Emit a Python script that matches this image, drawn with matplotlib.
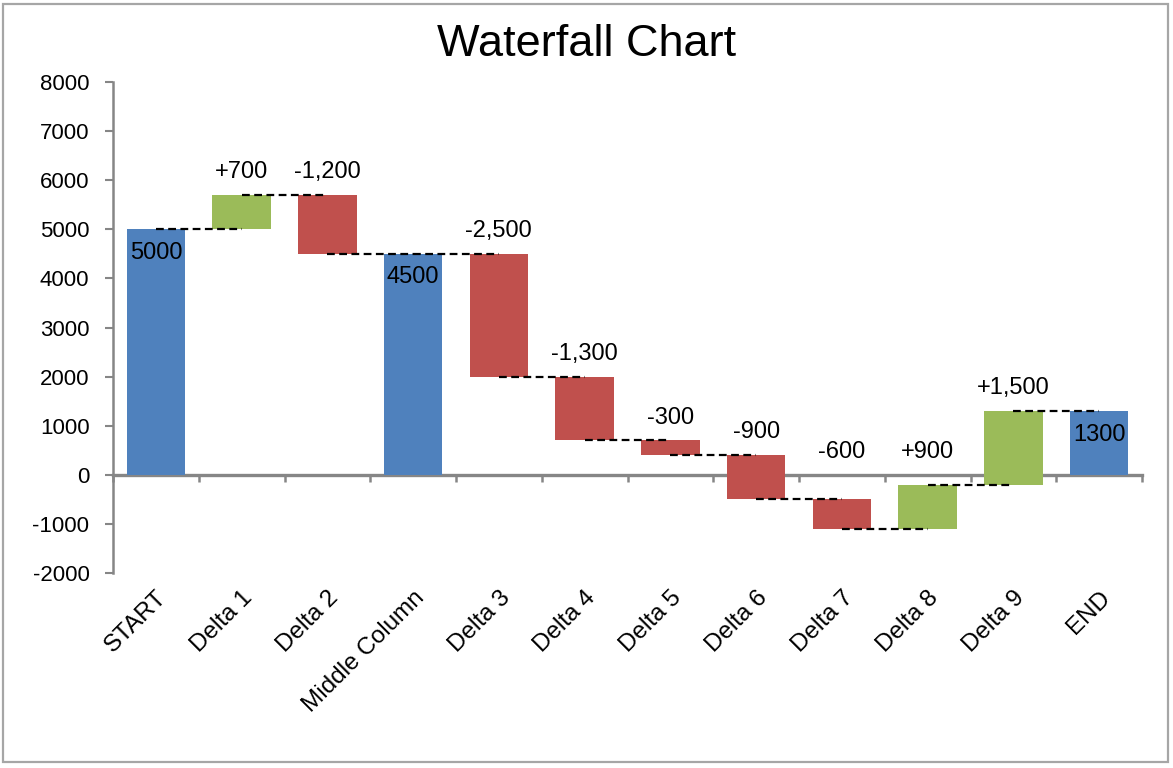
import matplotlib
matplotlib.use("Agg")
import matplotlib.pyplot as plt
from matplotlib.patches import Rectangle
import numpy as np

plt.rcParams['font.family'] = ['Liberation Sans', 'DejaVu Sans']

# ---- data ----
categories = ["START", "Delta 1", "Delta 2", "Middle Column", "Delta 3", "Delta 4",
              "Delta 5", "Delta 6", "Delta 7", "Delta 8", "Delta 9", "END"]
# for totals: the total value; for deltas: the change
values = [5000, 700, -1200, 4500, -2500, -1300, -300, -900, -600, 900, 1500, 1300]
is_total = [True, False, False, True, False, False, False, False, False, False, False, True]
title = "Waterfall Chart"
y_ticks = list(range(-2000, 8001, 1000))

c_total = "#4F81BD"
c_up = "#9BBB59"
c_down = "#C0504D"
axis_gray = "#868686"

# ---- compute waterfall geometry ----
bottoms, heights, colors, ends = [], [], [], []
level = 0
for v, t in zip(values, is_total):
    if t:
        bottoms.append(0); heights.append(v); colors.append(c_total)
        level = v
    else:
        bottoms.append(level); heights.append(v)
        colors.append(c_up if v > 0 else c_down)
        level = level + v
    ends.append(level)

n = len(categories)
x = np.arange(n)

fig = plt.figure(figsize=(11.73, 7.68), dpi=100)
ax = fig.add_axes([113/1173, 1 - 573/768, (1142 - 113)/1173, (573 - 82)/768])

ax.bar(x, heights, bottom=bottoms, width=0.68, color=colors, zorder=2)

# connectors
for i in range(n - 1):
    ax.plot([x[i], x[i + 1]], [ends[i], ends[i]], color="black", lw=1.6,
            linestyle=(0, (3.5, 2)), zorder=3)

# data labels
for i in range(n):
    if is_total[i]:
        ax.annotate(f"{values[i]}", (x[i], ends[i]), xytext=(0, -17),
                    textcoords="offset points", ha="center", va="center",
                    fontsize=17, zorder=4)
    else:
        top = max(bottoms[i], ends[i], 0)
        ax.annotate(f"{values[i]:+,}", (x[i], top), xytext=(0, 16.5),
                    textcoords="offset points", ha="center", va="center",
                    fontsize=17, zorder=4)

ymin, ymax = y_ticks[0], y_ticks[-1]
ax.set_ylim(ymin, ymax)
ax.set_xlim(-0.5, n - 0.5)
ax.set_yticks(y_ticks)
ax.set_yticklabels([str(t) for t in y_ticks], fontsize=16)
ax.tick_params(axis="y", direction="out", length=6, width=1.5, color=axis_gray, pad=11)

ax.set_xticks(x)
ax.set_xticklabels(categories, rotation=45, ha="right", va="top",
                   rotation_mode="anchor", fontsize=17.5)
ax.tick_params(axis="x", length=0, pad=10)

for s in ["top", "right", "bottom"]:
    ax.spines[s].set_visible(False)
ax.spines["left"].set_color(axis_gray)
ax.spines["left"].set_linewidth(1.8)

# horizontal axis line at zero with boundary ticks
loc = (0 - ymin) / (ymax - ymin)
sec = ax.secondary_xaxis(loc)
sec.set_xticks(np.arange(n + 1) - 0.5)
sec.set_xticklabels([])
sec.tick_params(direction="out", length=5, width=1.8, color=axis_gray)
sec.spines["bottom"].set_color(axis_gray)
sec.spines["bottom"].set_linewidth(2.4)

ax.set_facecolor("white")
fig.text(587/1173, 1 - 45/768, title, ha="center", va="center", fontsize=32.5)

fig.patches.append(Rectangle((3/1173, 1 - 762/768), (1168 - 3)/1173, (762 - 4)/768,
                             transform=fig.transFigure, fill=False,
                             edgecolor="#A6A6A6", lw=1.6))

fig.savefig("out.png", dpi=100)
